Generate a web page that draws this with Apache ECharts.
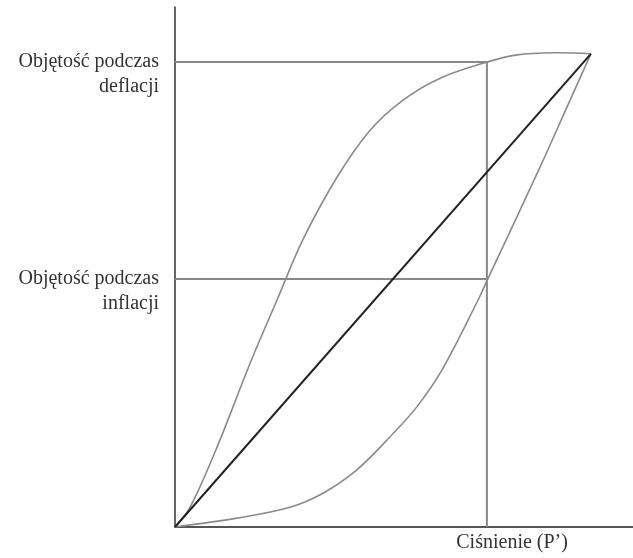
<!DOCTYPE html>
<html>
<head>
<meta charset="utf-8">
<script src="https://cdn.jsdelivr.net/npm/echarts@6/dist/echarts.min.js"></script>
<style>
  html, body { margin: 0; padding: 0; background: #fff; }
  #main { width: 633px; height: 558px; }
</style>
</head>
<body>
<div id="main"></div>
<script>
// pętla histerezy płuc (jednostki umowne 0-100)
var deflationCurve = [
    [0, 0], [3.3, 3.8], [9.2, 15.4], [16.4, 31.5], [22.3, 43.7], [27.9, 55.2],
    [35.4, 67.3], [42.6, 76.3], [49.8, 82.1], [57.9, 86.3], [68.1, 89.4],
    [74.7, 90.8], [83.4, 91.2], [90.8, 91.0]
];
var inflationCurve = [
    [0, 0], [13.5, 1.7], [25.1, 3.8], [32.3, 6.5], [39.7, 11.0], [46.9, 17.3],
    [52.8, 23.1], [58.3, 30.2], [66.2, 43.7], [68.3, 47.7], [79.7, 69.2],
    [85.6, 80.8], [90.8, 91.0]
];
var diagonal = [[0, 0], [90.8, 91.0]];

var pressureP = 68.1;       // ciśnienie P'
var volDeflation = 89.4;    // objętość podczas deflacji
var volInflation = 47.7;    // objętość podczas inflacji

var yLabels = {};
yLabels[volDeflation] = 'Objętość podczas\ndeflacji';
yLabels[volInflation] = 'Objętość podczas\ninflacji';
var xLabelAt = 73.6;
var xLabel = 'Ciśnienie (P’)';

var guideDeflation = [[0, volDeflation], [pressureP, volDeflation], [pressureP, 0]];
var guideInflation = [[0, volInflation], [pressureP, volInflation]];

var chart = echarts.init(document.getElementById('main'));
var font = '"Liberation Serif", "DejaVu Serif", serif';

// gładka krzywa rysowana jednym elementem (bez przycinania punktów kontrolnych)
function smoothCurve(points, color) {
    return function (params, api) {
        if (params.dataIndex !== 0) return null;
        var pts = points.map(function (p) { return api.coord(p); });
        return {
            type: 'polyline',
            shape: { points: pts, smooth: 0.35 },
            style: { stroke: color, lineWidth: 1.6, fill: null },
            silent: true
        };
    };
}

var option = {
    animation: false,
    backgroundColor: '#ffffff',
    grid: { left: 175, right: 0, top: 7, bottom: 31 },
    xAxis: {
        type: 'value',
        min: 0,
        max: 100,
        splitLine: { show: false },
        axisTick: { show: false },
        axisLine: { lineStyle: { color: '#555', width: 2 } },
        axisLabel: {
            customValues: [xLabelAt],
            formatter: function () { return xLabel; },
            margin: 6,
            fontFamily: font,
            fontSize: 20,
            color: '#333'
        }
    },
    yAxis: {
        type: 'value',
        min: 0,
        max: 100,
        splitLine: { show: false },
        axisTick: { show: false },
        axisLine: { lineStyle: { color: '#333', width: 1.5 } },
        axisLabel: {
            customValues: [volInflation, volDeflation],
            formatter: function (v) { return '\n' + (yLabels[v] || ''); },
            margin: 16,
            fontFamily: font,
            fontSize: 20,
            lineHeight: 25,
            align: 'right',
            color: '#333'
        }
    },
    series: [
        {
            type: 'line',
            data: guideDeflation,
            showSymbol: false,
            lineStyle: { color: '#888', width: 2 },
            silent: true
        },
        {
            type: 'line',
            data: guideInflation,
            showSymbol: false,
            lineStyle: { color: '#888', width: 2 },
            silent: true
        },
        {
            type: 'custom',
            data: deflationCurve,
            encode: { x: 0, y: 1 },
            renderItem: smoothCurve(deflationCurve, '#8a8a8a')
        },
        {
            type: 'custom',
            data: inflationCurve,
            encode: { x: 0, y: 1 },
            renderItem: smoothCurve(inflationCurve, '#8a8a8a')
        },
        {
            type: 'line',
            data: diagonal,
            showSymbol: false,
            lineStyle: { color: '#222', width: 2 }
        }
    ]
};
chart.setOption(option);
</script>
</body>
</html>
